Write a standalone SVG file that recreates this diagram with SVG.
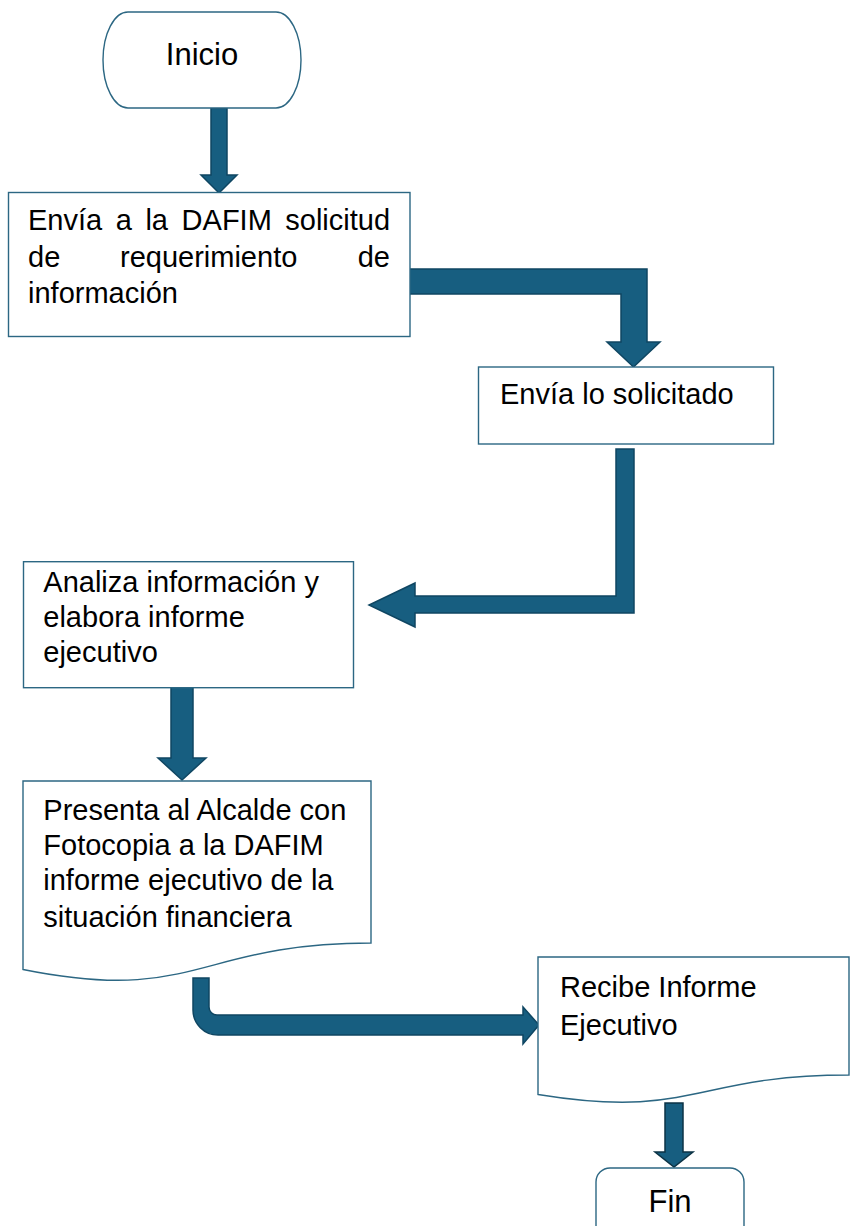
<svg xmlns="http://www.w3.org/2000/svg" width="851" height="1226" viewBox="0 0 851 1226">
<style>
.box{fill:#ffffff;stroke:#2c6783;stroke-width:1.4}
.arr{fill:#175e80;stroke:#0f4662;stroke-width:1.5;stroke-linejoin:miter}
.t{font-family:"Liberation Sans",Arial,sans-serif;font-size:29px;fill:#000}
.tt{font-family:"Liberation Sans",Arial,sans-serif;font-size:31px;fill:#000;text-anchor:middle}
</style>
<rect width="851" height="1226" fill="#ffffff"/>
<g id="connectors">
<polygon class="arr" points="211,108 227,108 227,175 237,175 219,193 201,175 211,175"/>
<polygon class="arr" points="409,269 647,269 647,342 660,342 633.5,367 607,342 621,342 621,294 409,294"/>
<polygon class="arr" points="616,449 634,449 634,613 415,613 415,627 369,605 415,583 415,596 616,596"/>
<polygon class="arr" points="171,687 193,687 193,758 206,758 182,780 158,758 171,758"/>
<path class="arr" d="M193,978 H209 V1007 A8,8 0 0 0 217,1015 H523 V1007 L539,1025 L523,1044 V1035 H218 A25,25 0 0 1 193,1010 Z"/>
<polygon class="arr" style="stroke:#0c3345" points="665,1103 683,1103 683,1152 693,1152 674,1167 655,1152 665,1152"/>
</g>
<g id="inicio">
<rect class="box" x="103" y="12" width="198" height="96" rx="25" ry="48"/>
<text class="tt" x="202" y="65">Inicio</text>
</g>
<g id="envia-dafim">
<rect class="box" x="8.5" y="192.5" width="401.5" height="144"/>
<text class="t" y="230"><tspan x="28">Envía</tspan><tspan x="115.8">a</tspan><tspan x="145.4">la</tspan><tspan x="181.6">DAFIM</tspan><tspan x="285.3">solicitud</tspan></text>
<text class="t" y="266.7"><tspan x="28">de</tspan><tspan x="120">requerimiento</tspan></text>
<text class="t" x="390" y="266.7" text-anchor="end">de</text>
<text class="t" x="28" y="303.3">información</text>
</g>
<g id="envia-solicitado">
<rect class="box" x="478.5" y="367" width="295" height="77"/>
<text class="t" x="500" y="404.3">Envía lo solicitado</text>
</g>
<g id="analiza">
<rect class="box" x="23.5" y="561.7" width="330" height="126"/>
<text class="t" x="43.3" y="591.7">Analiza información y</text>
<text class="t" x="43.3" y="626.7">elabora informe</text>
<text class="t" x="43.3" y="661.7">ejecutivo</text>
</g>
<g id="presenta">
<path class="box" d="M23,781 H371 V943 C197,943 197,1004.7 23,969.5 Z"/>
<text class="t" x="43.3" y="820">Presenta al Alcalde con</text>
<text class="t" x="43.3" y="855">Fotocopia a la DAFIM</text>
<text class="t" x="43.3" y="890">informe ejecutivo de la</text>
<text class="t" x="43.3" y="926.7">situación financiera</text>
</g>
<g id="recibe">
<path class="box" d="M538,957 H849 V1075 C693.5,1075 693.5,1119.8 538,1094.5 Z"/>
<text class="t" x="560" y="996.7">Recibe Informe</text>
<text class="t" x="560" y="1035">Ejecutivo</text>
</g>
<g id="fin">
<rect class="box" x="596" y="1168" width="148" height="80" rx="14" ry="14"/>
<text class="tt" x="670" y="1212">Fin</text>
</g>
</svg>
